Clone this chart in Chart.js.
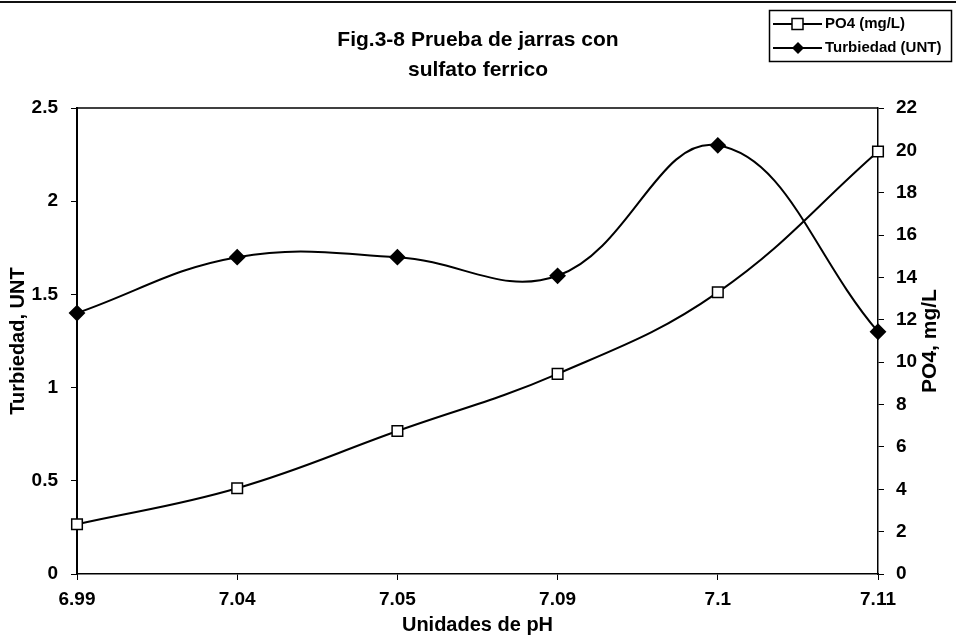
<!DOCTYPE html>
<html>
<head>
<meta charset="utf-8">
<script src="https://cdn.jsdelivr.net/npm/chart.js@4.4.0/dist/chart.umd.min.js"></script>
<style>
    html, body { margin: 0; padding: 0; background: #fff; }
    #wrap { width: 956px; height: 637px; position: relative; }
</style>
</head>
<body>
<div id="wrap"><canvas id="chart"></canvas></div>
<script>
// === Data ===
const phLabels = ['6.99', '7.04', '7.05', '7.09', '7.1', '7.11'];
const turbidity = [1.4, 1.7, 1.7, 1.6, 2.3, 1.3];       // UNT, left axis
const po4 = [2.35, 4.05, 6.75, 9.45, 13.3, 19.95];       // mg/L, right axis
const turbTicks = [0, 0.5, 1, 1.5, 2, 2.5];
const po4Ticks = [0, 2, 4, 6, 8, 10, 12, 14, 16, 18, 20, 22];

const FONT = '"Liberation Sans", Arial, sans-serif';

// === Helpers ===
// legend box, right axis title (reads bottom-to-top) and frame bits
const extras = {
    id: 'extras',
    afterDraw(chart) {
        const ctx = chart.ctx;
        const a = chart.chartArea;
        ctx.save();
        // scan border line at the top
        ctx.strokeStyle = '#111';
        ctx.lineWidth = 2;
        ctx.beginPath();
        ctx.moveTo(0, 2);
        ctx.lineTo(956, 2);
        ctx.stroke();

        // legend
        ctx.strokeStyle = '#000';
        ctx.lineWidth = 1.5;
        ctx.strokeRect(769.5, 10.5, 182, 51);

        ctx.font = 'bold 15px ' + FONT;
        ctx.textBaseline = 'middle';
        chart.data.datasets.forEach((ds, i) => {
            const y = 24 + i * 24;
            ctx.lineWidth = 2;
            ctx.beginPath();
            ctx.moveTo(773, y);
            ctx.lineTo(822, y);
            ctx.stroke();
            if (ds.pointStyle === 'rect') {
                ctx.fillStyle = '#fff';
                ctx.fillRect(792, y - 5.5, 11, 11);
                ctx.lineWidth = 1.5;
                ctx.strokeRect(792, y - 5.5, 11, 11);
            } else {
                ctx.fillStyle = '#000';
                ctx.beginPath();
                ctx.moveTo(798, y - 6);
                ctx.lineTo(804, y);
                ctx.lineTo(798, y + 6);
                ctx.lineTo(792, y);
                ctx.closePath();
                ctx.fill();
            }
            ctx.fillStyle = '#000';
            ctx.fillText(ds.label, 825, y);
        });

        // right axis title
        ctx.save();
        ctx.translate(930, (a.top + a.bottom) / 2);
        ctx.rotate(-Math.PI / 2);
        ctx.textAlign = 'center';
        ctx.textBaseline = 'middle';
        ctx.font = 'bold 21px ' + FONT;
        ctx.fillStyle = '#000';
        ctx.fillText('PO4, mg/L', 0, 0);
        ctx.restore();

        // top edge of the plot frame
        ctx.lineWidth = 1.5;
        ctx.beginPath();
        ctx.moveTo(a.left, a.top);
        ctx.lineTo(a.right, a.top);
        ctx.stroke();
        ctx.restore();
    }
};

const tickFont = { family: FONT, size: 19, weight: 'bold' };

// === Builder ===
const ctx = document.getElementById('chart').getContext('2d');
new Chart(ctx, {
    type: 'line',
    data: {
        labels: phLabels,
        datasets: [
            {
                label: 'PO4 (mg/L)',
                data: po4,
                yAxisID: 'y1',
                borderColor: '#000',
                borderWidth: 2,
                tension: 0.4,
                pointStyle: 'rect',
                pointRadius: 7.5,
                pointBackgroundColor: '#fff',
                pointBorderColor: '#000',
                pointBorderWidth: 1.5,
                fill: false
            },
            {
                label: 'Turbiedad (UNT)',
                data: turbidity,
                yAxisID: 'y',
                borderColor: '#000',
                borderWidth: 2,
                tension: 0.4,
                pointStyle: 'rectRot',
                pointRadius: 7,
                pointBackgroundColor: '#000',
                pointBorderColor: '#000',
                fill: false
            }
        ]
    },
    options: {
        responsive: true,
        maintainAspectRatio: false,
        animation: false,
        layout: { padding: 0 },
        scales: {
            x: {
                offset: false,
                afterFit: s => { s.height = 63; },
                grid: { drawOnChartArea: false, color: '#000', tickLength: 6 },
                border: { color: '#000', width: 1.5 },
                ticks: { color: '#000', font: tickFont, padding: 8, maxRotation: 0 },
                title: { display: true, text: 'Unidades de pH', color: '#000', padding: 0,
                    font: { family: FONT, size: 20, weight: 'bold', lineHeight: 1.2 } }
            },
            y: {
                position: 'left',
                min: 0,
                max: 2.5,
                afterFit: s => { s.width = 77; },
                afterBuildTicks: s => { s.ticks = turbTicks.map(v => ({ value: v })); },
                grid: { drawOnChartArea: false, color: '#000', tickLength: 6 },
                border: { color: '#000', width: 2 },
                ticks: { color: '#000', font: tickFont, padding: 13,
                    callback: v => String(Number(v)) },
                title: { display: true, text: 'Turbiedad, UNT', color: '#000', padding: 0,
                    font: { family: FONT, size: 20, weight: 'bold', lineHeight: 1.8 } }
            },
            y1: {
                position: 'right',
                min: 0,
                max: 22,
                afterFit: s => { s.width = 78; },
                afterBuildTicks: s => { s.ticks = po4Ticks.map(v => ({ value: v })); },
                grid: { drawOnChartArea: false, color: '#000', tickLength: 6 },
                border: { color: '#000', width: 1.5 },
                ticks: { color: '#000', font: tickFont, padding: 12 },
                title: { display: false }
            }
        },
        plugins: {
            legend: { display: false },
            tooltip: { enabled: false },
            title: {
                display: true,
                text: ['Fig.3-8 Prueba de jarras con', 'sulfato ferrico'],
                color: '#000',
                font: { family: FONT, size: 21, weight: 'bold', lineHeight: 1.43 },
                padding: { top: 25, bottom: 23 }
            }
        }
    },
    plugins: [extras]
});
</script>
</body>
</html>
